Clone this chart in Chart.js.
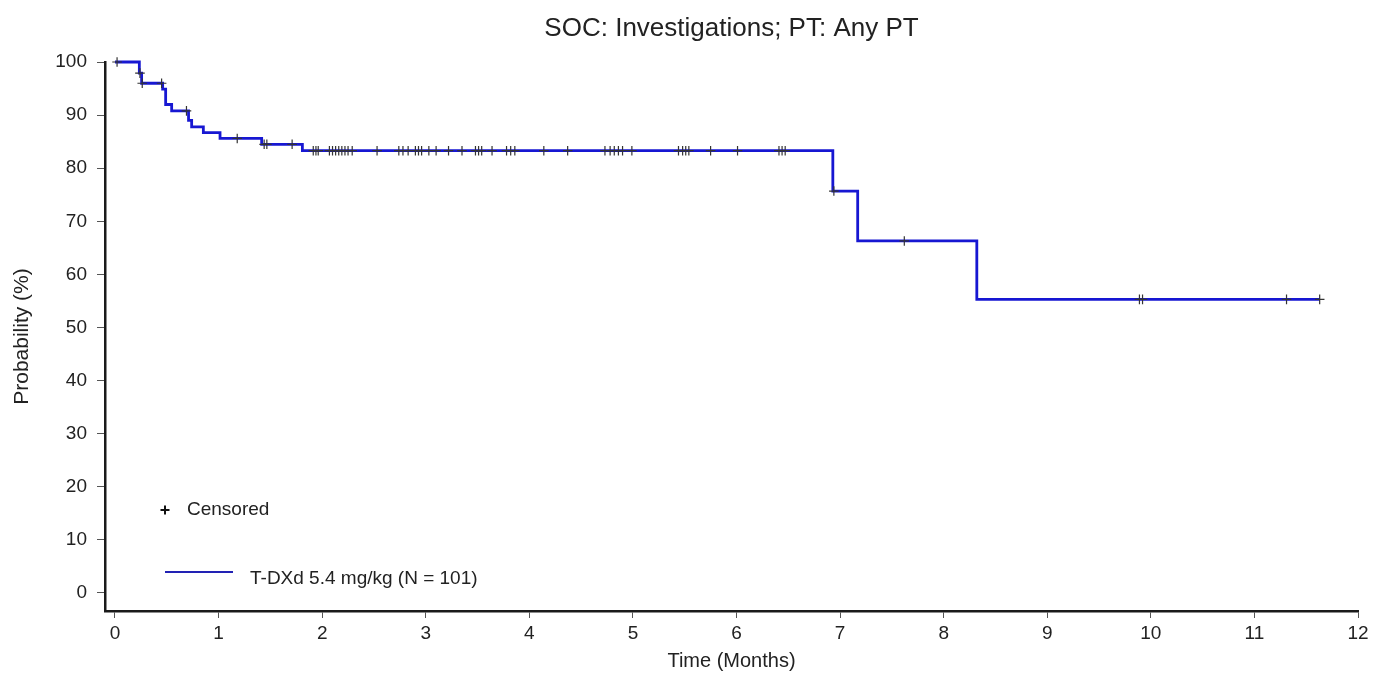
<!DOCTYPE html>
<html>
<head>
<meta charset="utf-8">
<title>SOC: Investigations; PT: Any PT</title>
<script src="https://cdn.jsdelivr.net/npm/chart.js@4.4.1/dist/chart.umd.min.js"></script>
<style>
  html, body { margin: 0; padding: 0; background: #fff; }
  #wrap { width: 1386px; height: 673px; }
</style>
</head>
<body>
<div id="wrap"><canvas id="kmChart" width="1386" height="673"></canvas></div>
<script>
// Kaplan-Meier estimate: time of each step (months) and probability after it (%)
const stepTimes = [0, 0.235, 0.257, 0.46, 0.489, 0.547, 0.71, 0.74, 0.853, 1.014, 1.416, 1.809, 6.93, 7.17, 8.32];
const stepValues = [100, 97.9, 96.0, 94.9, 92.0, 90.8, 89.0, 87.8, 86.7, 85.6, 84.5, 83.3, 75.7, 66.3, 55.3];
const lastFollowUp = 11.63;

// censoring times (months)
const censorTimes = [
  0.02, 0.241, 0.263, 0.45, 0.69, 1.18, 1.44, 1.466, 1.71,
  1.914, 1.94, 1.962, 2.07, 2.10, 2.13, 2.16, 2.19, 2.22, 2.25, 2.29,
  2.53, 2.74, 2.78, 2.83, 2.90, 2.93, 2.96, 3.03, 3.10, 3.22, 3.35,
  3.48, 3.51, 3.54, 3.64, 3.78, 3.82, 3.86, 4.14, 4.37,
  4.73, 4.78, 4.82, 4.86, 4.90, 4.99, 5.44, 5.48, 5.51, 5.54, 5.75, 6.01,
  6.41, 6.44, 6.47, 6.94, 7.62, 9.89, 9.92, 11.31, 11.63
];

const xTicks = [0, 1, 2, 3, 4, 5, 6, 7, 8, 9, 10, 11, 12];
const yTicks = [0, 10, 20, 30, 40, 50, 60, 70, 80, 90, 100];

const chartTitle = "SOC: Investigations; PT: Any PT";
const seriesLabel = "T-DXd 5.4 mg/kg (N = 101)";
const FONT = "'Liberation Sans', Arial, Helvetica, sans-serif";
const TEXT = "#222";
const LINE_BLUE = "#1717d2";

// value of the step function at time t
function survivalAt(t) {
  let v = stepValues[0];
  for (let i = 0; i < stepTimes.length; i++) {
    if (stepTimes[i] <= t) v = stepValues[i];
  }
  return v;
}

const curvePoints = stepTimes.map((t, i) => ({ x: t, y: stepValues[i] }));
curvePoints.push({ x: lastFollowUp, y: stepValues[stepValues.length - 1] });

const censorPoints = censorTimes.map(t => ({ x: t, y: survivalAt(t) }));

// title centred over the plot area, legend inside the plot, lower left
const kmDecor = {
  id: "kmDecor",
  afterDraw(chart) {
    const { ctx, chartArea } = chart;
    ctx.save();
    ctx.fillStyle = TEXT;
    ctx.textBaseline = "middle";
    ctx.textAlign = "center";
    ctx.font = "26px " + FONT;
    ctx.fillText(chartTitle, (chartArea.left + chartArea.right) / 2, 29);

    const x0 = chartArea.left + 60;
    ctx.textAlign = "left";
    // censor symbol
    ctx.strokeStyle = "#111";
    ctx.lineWidth = 2;
    const cy = 510;
    ctx.beginPath();
    ctx.moveTo(x0 - 4.5, cy); ctx.lineTo(x0 + 4.5, cy);
    ctx.moveTo(x0, cy - 4.5); ctx.lineTo(x0, cy + 4.5);
    ctx.stroke();
    ctx.font = "19px " + FONT;
    ctx.fillText("Censored", x0 + 22, cy);
    // series line
    ctx.strokeStyle = "#2222b4";
    ctx.lineWidth = 2.2;
    ctx.beginPath();
    ctx.moveTo(x0, 572); ctx.lineTo(x0 + 68, 572);
    ctx.stroke();
    ctx.fillText(seriesLabel, x0 + 85, 579);
    ctx.restore();
  }
};

const ctx = document.getElementById("kmChart").getContext("2d");
new Chart(ctx, {
  type: "line",
  data: {
    datasets: [
      {
        type: "scatter",
        label: "Censored",
        data: censorPoints,
        pointStyle: "cross",
        pointRadius: 4.8,
        pointBorderWidth: 1.2,
        borderColor: "#333",
        backgroundColor: "#333",
        showLine: false,
        clip: false,
        order: 0
      },
      {
        label: seriesLabel,
        data: curvePoints,
        stepped: "before",
        borderColor: LINE_BLUE,
        borderWidth: 2.8,
        pointRadius: 0,
        fill: false,
        clip: false,
        order: 1
      }
    ]
  },
  options: {
    responsive: false,
    animation: false,
    devicePixelRatio: 1,
    layout: { padding: { left: 0, right: 28, top: 62, bottom: 0 } },
    plugins: {
      legend: { display: false },
      tooltip: { enabled: false },
      title: { display: false }
    },
    scales: {
      x: {
        type: "linear",
        min: -0.0965,
        max: 12,
        afterBuildTicks: s => { s.ticks = xTicks.map(v => ({ value: v })); },
        afterFit: s => { s.height = 62; s.paddingLeft = 0; s.paddingRight = 0; },
        ticks: {
          color: TEXT,
          font: { family: FONT, size: 19 },
          padding: 4,
          maxRotation: 0,
          autoSkip: false
        },
        grid: { drawOnChartArea: false, drawTicks: true, tickLength: 7, color: "#555", lineWidth: 1 },
        border: { display: true, color: "#1a1a1a", width: 2.5 },
        title: {
          display: true,
          text: "Time (Months)",
          color: TEXT,
          font: { family: FONT, size: 20 },
          padding: { top: 4, bottom: 0 }
        }
      },
      y: {
        type: "linear",
        min: -3.39,
        max: 100,
        afterBuildTicks: s => { s.ticks = yTicks.map(v => ({ value: v })); },
        afterFit: s => { s.width = 105; s.paddingTop = 0; s.paddingBottom = 0; },
        ticks: {
          color: TEXT,
          font: { family: FONT, size: 19 },
          padding: 10
        },
        grid: { drawOnChartArea: false, drawTicks: true, tickLength: 8, color: "#555", lineWidth: 1 },
        border: { display: true, color: "#1a1a1a", width: 2.5 },
        title: {
          display: true,
          text: "Probability (%)",
          color: TEXT,
          font: { family: FONT, size: 21 },
          padding: { top: 10, bottom: 0 }
        }
      }
    }
  },
  plugins: [kmDecor]
});
</script>
</body>
</html>
